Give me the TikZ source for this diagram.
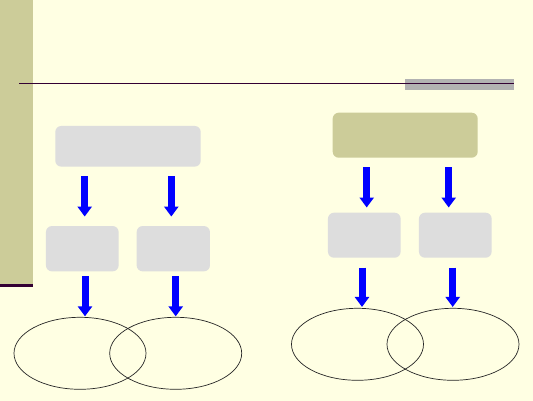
\documentclass[tikz,border=0pt]{standalone}
\usetikzlibrary{shapes.geometric,arrows.meta}
\definecolor{bgc}{HTML}{FFFFE3}
\definecolor{side}{HTML}{CCCC99}
\definecolor{boxgray}{HTML}{DDDDDD}
\definecolor{bargray}{HTML}{B2B2B2}
\definecolor{darkpurp}{HTML}{330033}
\definecolor{arrblue}{HTML}{0000FF}
\tikzset{
  graybox/.style={rectangle, rounded corners=6pt, fill=boxgray, draw=none, inner sep=0pt},
  olivebox/.style={rectangle, rounded corners=6pt, fill=side, draw=none, inner sep=0pt},
  setell/.style={ellipse, draw=black!85, line width=0.7pt, minimum width=132pt, minimum height=72pt, inner sep=0pt},
  bluearrow/.style={draw=arrblue, line width=7pt, -{Triangle[length=10pt,width=14pt]}, arrblue}
}
\begin{document}
\begin{tikzpicture}[x=1pt,y=-1pt]
\useasboundingbox (0,0) rectangle (533,401);
\fill[bgc] (0,0) rectangle (533,401);
% sidebar
\fill[side] (0,0) rectangle (32.5,284.5);
\fill[darkpurp] (0,284) rectangle (33,286.7);
% title rule
\fill[bargray] (405,79) rectangle (514,90);
\draw[darkpurp, line width=1.3pt] (19,83.5) -- (514,83.5);

% left diagram
\node[graybox, minimum width=145.4pt, minimum height=40.7pt] (A) at (128,146.3) {};
\node[graybox, minimum width=72.7pt, minimum height=45.3pt] (A1) at (82.3,248.7) {};
\node[graybox, minimum width=73.3pt, minimum height=45.3pt] (A2) at (173.3,248.7) {};
\node[setell] (EA1) at (80,353.3) {};
\node[setell] (EA2) at (175.7,353.3) {};

\draw[bluearrow, shorten <=9.3pt, shorten >=9.3pt] (A.south -| 84.7,0) -- (A1.north -| 84.7,0);
\draw[bluearrow, shorten <=9.3pt, shorten >=9.3pt] (A.south -| 171.3,0) -- (A2.north -| 171.3,0);
\draw[bluearrow, shorten <=4.7pt, shorten >=0.6pt] (A1.south -| 85,0) -- (EA1.north -| 85,0);
\draw[bluearrow, shorten <=4.7pt, shorten >=0.6pt] (A2.south -| 175.7,0) -- (EA2.north);

% right diagram
\node[olivebox, minimum width=145pt, minimum height=45pt] (B) at (405.2,135.2) {};
\node[graybox, minimum width=72.7pt, minimum height=45pt] (B1) at (364.3,235.2) {};
\node[graybox, minimum width=72.7pt, minimum height=45pt] (B2) at (455.3,235.2) {};
\node[setell] (EB1) at (357.5,344.3) {};
\node[setell] (EB2) at (453,344.3) {};

\draw[bluearrow, shorten <=9.3pt, shorten >=5pt] (B.south -| 366.7,0) -- (B1.north -| 366.7,0);
\draw[bluearrow, shorten <=9.3pt, shorten >=5pt] (B.south -| 448.7,0) -- (B2.north -| 448.7,0);
\draw[bluearrow, shorten <=9.6pt, shorten >=1pt] (B1.south -| 362,0) -- (EB1.north -| 362,0);
\draw[bluearrow, shorten <=9.6pt, shorten >=1pt] (B2.south -| 452.7,0) -- (EB2.north -| 452.7,0);
\end{tikzpicture}
\end{document}
